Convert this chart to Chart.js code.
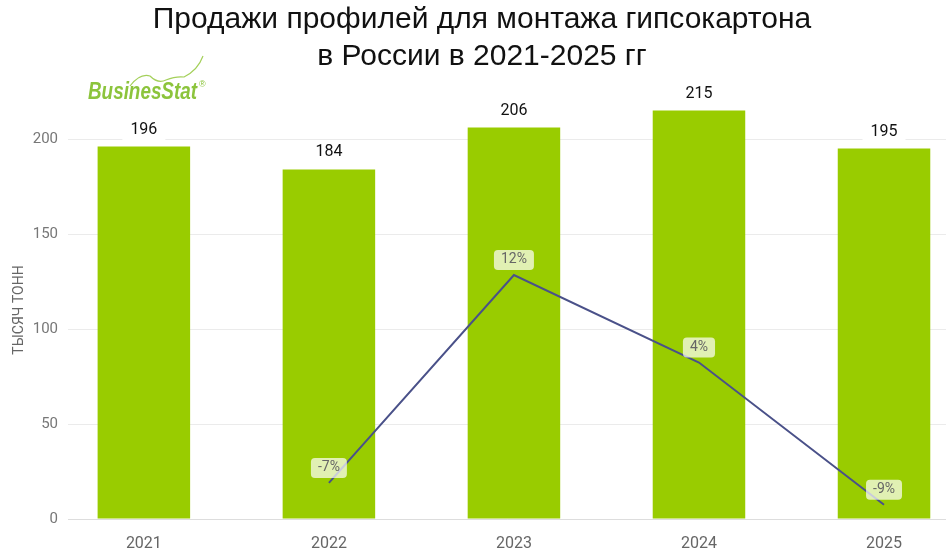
<!DOCTYPE html>
<html>
<head>
<meta charset="utf-8">
<script src="https://cdn.jsdelivr.net/npm/chart.js@4.4.1/dist/chart.umd.min.js"></script>
<style>
  html, body { margin: 0; padding: 0; background: #fff; overflow: hidden; }
  #wrap { width: 946px; height: 554px; }
</style>
</head>
<body>
<div id="wrap"><canvas id="chart"></canvas></div>
<script>
const years = ['2021', '2022', '2023', '2024', '2025'];
const sales = [196, 184, 206, 215, 195];          // тысяч тонн
const growth = [null, -7, 12, 4, -9];             // % к предыдущему году
const yTicks = [0, 50, 100, 150, 200];
const titleLines = ['Продажи профилей для монтажа гипсокартона', 'в России в 2021-2025 гг'];

// labels, title and logo drawn by hand (no datalabels plugin offline)
const decor = {
  id: 'decor',
  afterDatasetsDraw(chart) {
    const ctx = chart.ctx;
    ctx.save();
    // values above bars
    const bars = chart.getDatasetMeta(0);
    ctx.font = '16px Roboto';
    ctx.textAlign = 'center';
    ctx.textBaseline = 'middle';
    bars.data.forEach(function(el, i) {
      const txt = String(sales[i]);
      const w = ctx.measureText(txt).width + 16;
      ctx.fillStyle = '#fff';
      ctx.fillRect(el.x - w / 2, el.y - 28, w, 22);
      ctx.fillStyle = '#111';
      ctx.fillText(txt, el.x, el.y - 17);
    });
    // growth labels
    const line = chart.getDatasetMeta(1);
    ctx.font = '14px Roboto';
    line.data.forEach(function(pt, i) {
      const v = growth[i];
      if (v === null) return;
      const txt = v + '%';
      const w = ctx.measureText(txt).width + 14;
      ctx.fillStyle = 'rgba(255,255,255,0.7)';
      ctx.beginPath();
      ctx.roundRect(pt.x - w / 2, pt.y - 25, w, 20, 4);
      ctx.fill();
      ctx.fillStyle = '#666';
      ctx.fillText(txt, pt.x, pt.y - 15);
    });
    ctx.restore();
  },
  afterDraw(chart) {
    const ctx = chart.ctx;
    ctx.save();
    ctx.fillStyle = '#111';
    ctx.font = '30px "Liberation Sans"';
    ctx.textAlign = 'center';
    ctx.textBaseline = 'middle';
    ctx.fillText(titleLines[0], 482, 20);
    ctx.fillText(titleLines[1], 482, 57);

    // BusinesStat logo
    ctx.strokeStyle = '#a4d05a';
    ctx.lineWidth = 1.2;
    ctx.beginPath();
    ctx.moveTo(130, 86);
    ctx.quadraticCurveTo(140, 73, 150, 76);
    ctx.quadraticCurveTo(158, 84, 166, 80);
    ctx.quadraticCurveTo(176, 76, 184, 77);
    ctx.quadraticCurveTo(198, 70, 203, 56);
    ctx.stroke();
    ctx.fillStyle = '#8cc43c';
    ctx.textAlign = 'left';
    ctx.textBaseline = 'alphabetic';
    ctx.save();
    ctx.translate(88, 99);
    ctx.scale(0.82, 1);
    ctx.font = 'italic bold 23px "Liberation Sans"';
    ctx.fillText('BusinesStat', 0, 0);
    ctx.restore();
    ctx.font = '9px "Liberation Sans"';
    ctx.fillText('®', 199, 87);
    ctx.restore();
  }
};

const ctx = document.getElementById('chart').getContext('2d');
new Chart(ctx, {
  type: 'bar',
  data: {
    datasets: [{
      type: 'bar',
      data: sales.map(function(v, i) { return { x: i, y: v }; }),
      backgroundColor: '#99cc00',
      barPercentage: 0.5,
      categoryPercentage: 1,
      order: 1
    }, {
      type: 'line',
      data: growth.map(function(v, i) { return { x: i, y: v }; }),
      yAxisID: 'y2',
      borderColor: '#4a5189',
      borderWidth: 2,
      pointRadius: 0,
      tension: 0,
      order: 0
    }]
  },
  options: {
    responsive: true,
    maintainAspectRatio: false,
    animation: false,
    layout: { padding: { top: 101, right: 0, left: 0, bottom: 0 } },
    scales: {
      x: {
        type: 'linear',
        offset: false,
        min: -0.41,
        max: 4.335,
        afterBuildTicks: function(s) { s.ticks = years.map(function(y, i) { return { value: i }; }); },
        afterFit: function(s) { s.height = 35; },
        grid: { display: false },
        border: { color: '#dddddd' },
        ticks: {
          autoSkip: false,
          maxRotation: 0,
          padding: 7,
          color: '#666',
          font: { family: 'Roboto', size: 16 },
          callback: function(v) { return years[v]; }
        }
      },
      y: {
        min: 0,
        max: 220,
        afterBuildTicks: function(s) { s.ticks = yTicks.map(function(v) { return { value: v }; }); },
        afterFit: function(s) { s.width = 68; },
        grid: { color: '#ebebeb', drawTicks: false },
        border: { display: false },
        ticks: { padding: 10, color: '#777', font: { family: 'Roboto', size: 15 } },
        title: {
          display: true,
          text: 'ТЫСЯЧ ТОНН',
          color: '#666',
          font: { family: 'Roboto', size: 14 },
          padding: { top: 11, bottom: 0 }
        }
      },
      y2: { display: false, min: -10.3, max: 27.9 }
    },
    plugins: {
      legend: { display: false },
      tooltip: { enabled: false }
    }
  },
  plugins: [decor]
});
</script>
</body>
</html>
